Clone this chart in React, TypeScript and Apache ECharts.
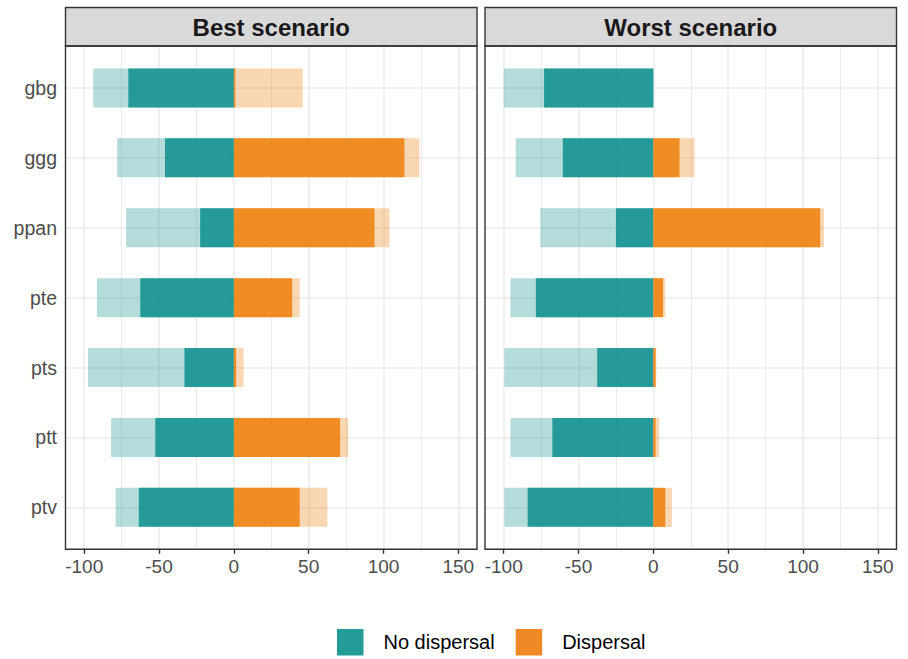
import React, { useEffect, useRef } from "react";
import * as echarts from "echarts";

const categories = ["gbg", "ggg", "ppan", "pte", "pts", "ptt", "ptv"];
const panelTitles = ["Best scenario", "Worst scenario"];
const xTicks = [-100, -50, 0, 50, 100, 150];
const xMinorTicks = [-75, -25, 25, 75, 125];
const yPositions = [1, 2, 3, 4, 5, 6, 7];

// Best scenario
const bestNoDispersalRange = [-94, -78, -72, -91.5, -97.5, -82, -79];
const bestNoDispersal = [-70.5, -46, -22.5, -62.5, -33, -52.5, -63.5];
const bestDispersal = [1, 114, 94, 39, 1.5, 71, 44];
const bestDispersalRange = [46, 124, 104, 44, 6.5, 76.5, 62.5];

// Worst scenario
const worstNoDispersalRange = [-100, -92, -75.5, -95.5, -99.5, -95.5, -99.5];
const worstNoDispersal = [-73, -60.5, -25, -78.5, -37.5, -67.5, -84];
const worstDispersal = [0, 17.5, 111.5, 6.5, 1.5, 1.5, 8];
const worstDispersalRange = [0, 27.5, 114, 8, 2, 4, 12.5];

const X_MIN = -112.5;
const X_MAX = 162.5;
const FONT = '"Liberation Sans", Arial, sans-serif';

const TEAL_DARK = "rgba(25,150,146,0.93)";
const TEAL_LIGHT = "rgba(25,150,146,0.33)";
const ORANGE_DARK = "rgba(238,134,25,0.93)";
const ORANGE_LIGHT = "rgba(237,134,25,0.33)";

export default function App() {
  const ref = useRef<HTMLDivElement>(null);

  useEffect(() => {
    if (!ref.current) return;
    const chart = echarts.init(ref.current, undefined, { renderer: "svg" });

    const panelLefts = [65.5, 485];
    const panelWidth = 411.5;
    const plotTop = 46;
    const plotHeight = 503.3;
    const stripTop = 7.5;
    const stripHeight = plotTop - stripTop;
    const unit = plotHeight / 7.2;
    const insetTop = plotTop + 0.1 * unit;
    const insetHeight = 7 * unit;

    const grids: any[] = [];
    const xAxes: any[] = [];
    const yAxes: any[] = [];
    const graphics: any[] = [];

    panelLefts.forEach((left) => {
      grids.push({ left, top: plotTop, width: panelWidth, height: plotHeight, containLabel: false });
    });
    panelLefts.forEach((left) => {
      grids.push({ left, top: insetTop, width: panelWidth, height: insetHeight, containLabel: false });
    });

    panelLefts.forEach((_, i) => {
      xAxes.push({
        type: "value",
        gridIndex: i,
        position: "bottom",
        min: X_MIN,
        max: X_MAX,
        axisLine: { show: false },
        axisTick: {
          show: true,
          customValues: xTicks,
          length: 4.5,
          lineStyle: { color: "#333333", width: 1.4 },
        },
        axisLabel: {
          show: true,
          customValues: xTicks,
          fontSize: 19,
          color: "#4d4d4d",
          fontFamily: FONT,
          margin: 8,
        },
        splitLine: { show: true, lineStyle: { color: "#ebebeb", width: 1.5 } },
      });
      xAxes.push({
        type: "value",
        gridIndex: i,
        position: "top",
        min: X_MIN,
        max: X_MAX,
        axisLine: { show: false },
        axisTick: { show: false, customValues: xMinorTicks },
        axisLabel: { show: false, customValues: xMinorTicks },
        splitLine: { show: true, lineStyle: { color: "#ebebeb", width: 1 } },
      });
      yAxes.push({
        type: "value",
        gridIndex: i,
        min: 0.4,
        max: 7.6,
        inverse: true,
        axisLine: { show: false },
        axisTick: { show: false, customValues: yPositions },
        axisLabel: { show: false, customValues: yPositions },
        splitLine: { show: true, lineStyle: { color: "#ebebeb", width: 1.5 } },
      });
    });

    panelLefts.forEach((_, i) => {
      xAxes.push({
        type: "value",
        gridIndex: 2 + i,
        min: X_MIN,
        max: X_MAX,
        show: false,
        splitLine: { show: false },
      });
      yAxes.push({
        type: "category",
        gridIndex: 2 + i,
        data: categories,
        inverse: true,
        show: i === 0,
        axisLine: { show: false },
        axisTick: {
          show: true,
          alignWithLabel: true,
          length: 4.5,
          lineStyle: { color: "#333333", width: 1.4 },
        },
        axisLabel: {
          fontSize: 19.5,
          color: "#4d4d4d",
          fontFamily: FONT,
          margin: 8.5,
        },
        splitLine: { show: false },
      });
    });

    panelLefts.forEach((left, i) => {
      graphics.push({
        type: "rect",
        z: 100,
        silent: true,
        shape: { x: left, y: stripTop, width: panelWidth, height: stripHeight },
        style: { fill: "#d9d9d9", stroke: "#333333", lineWidth: 1.4 },
      });
      graphics.push({
        type: "text",
        z: 101,
        silent: true,
        x: left + panelWidth / 2,
        y: stripTop + stripHeight / 2 + 1,
        style: {
          text: panelTitles[i],
          fill: "#1a1a1a",
          fontSize: 24,
          fontWeight: "bold",
          fontFamily: FONT,
          align: "center",
          verticalAlign: "middle",
        },
      });
      graphics.push({
        type: "rect",
        z: 100,
        silent: true,
        shape: { x: left, y: plotTop, width: panelWidth, height: plotHeight },
        style: { fill: "none", stroke: "#333333", lineWidth: 1.4 },
      });
    });

    const bar = (name: string, data: number[], color: string, idx: number) => ({
      type: "bar",
      name,
      data,
      xAxisIndex: 4 + idx,
      yAxisIndex: 2 + idx,
      barWidth: 39,
      barGap: "-100%",
      itemStyle: { color },
      silent: true,
      z: 2,
    });

    const series = [
      bar("No dispersal (range)", bestNoDispersalRange, TEAL_LIGHT, 0),
      bar("Dispersal (range)", bestDispersalRange, ORANGE_LIGHT, 0),
      bar("No dispersal", bestNoDispersal, TEAL_DARK, 0),
      bar("Dispersal", bestDispersal, ORANGE_DARK, 0),
      bar("No dispersal (range)", worstNoDispersalRange, TEAL_LIGHT, 1),
      bar("Dispersal (range)", worstDispersalRange, ORANGE_LIGHT, 1),
      bar("No dispersal", worstNoDispersal, TEAL_DARK, 1),
      bar("Dispersal", worstDispersal, ORANGE_DARK, 1),
    ];

    chart.setOption({
      animation: false,
      backgroundColor: "#ffffff",
      textStyle: { fontFamily: FONT },
      grid: grids,
      xAxis: xAxes,
      yAxis: yAxes,
      legend: {
        left: 337,
        top: 629,
        padding: 0,
        icon: "rect",
        itemWidth: 26.5,
        itemHeight: 26.5,
        itemGap: 21,
        selectedMode: false,
        data: [
          { name: "No dispersal", itemStyle: { color: "#239B97" } },
          { name: "Dispersal", itemStyle: { color: "#F08925" } },
        ],
        textStyle: { fontSize: 20, color: "#000000", fontFamily: FONT, padding: [9, 0, 0, 15] },
      },
      graphic: graphics,
      series,
    });

    return () => chart.dispose();
  }, []);

  return (
    <div
      ref={ref}
      style={{ position: "fixed", left: 0, top: 0, width: 908, height: 659 }}
    />
  );
}
